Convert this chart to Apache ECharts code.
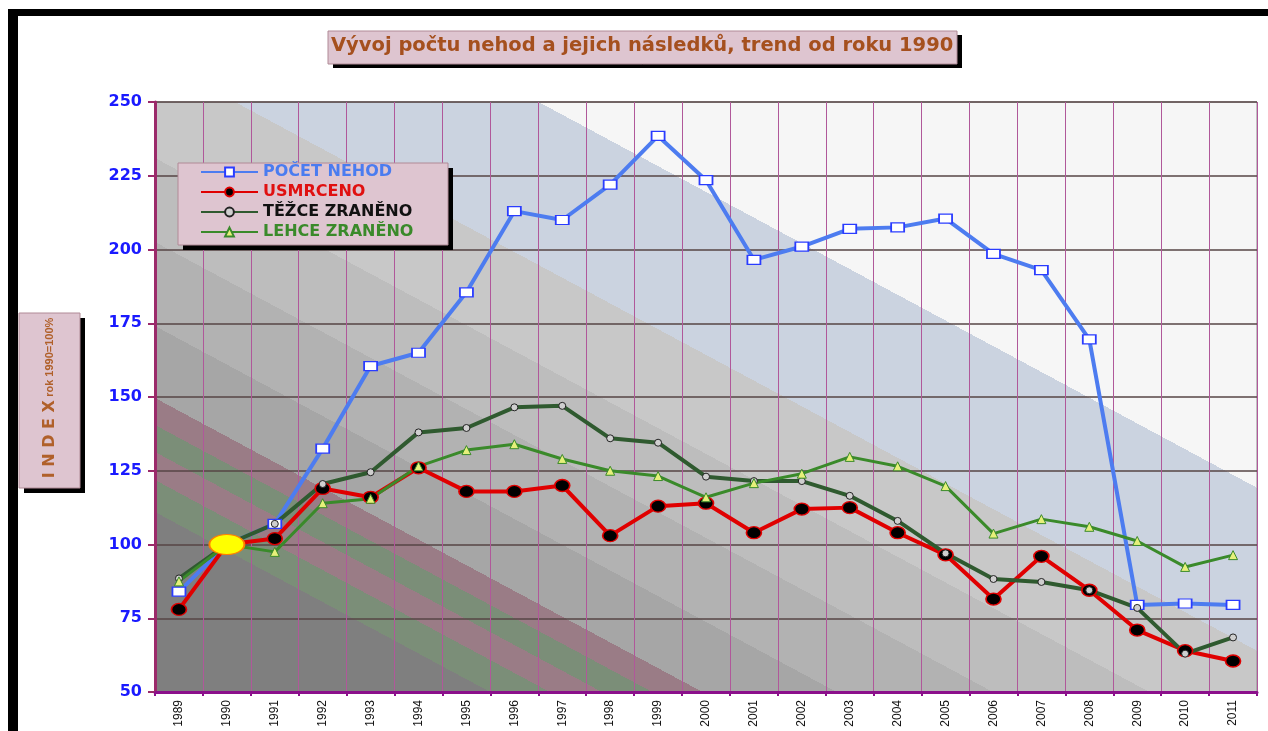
<!DOCTYPE html>
<html>
<head>
<meta charset="utf-8">
<title>Vývoj počtu nehod</title>
<script src="https://cdn.jsdelivr.net/npm/echarts@6/dist/echarts.min.js"></script>
<style>
  html, body { margin: 0; padding: 0; background: #fff; }
  #chart { width: 1268px; height: 731px; }
</style>
</head>
<body>
<div id="chart"></div>
<script>
// data (index, year 1990 = 100)
const years = ['1989', '1990', '1991', '1992', '1993', '1994', '1995', '1996', '1997', '1998', '1999', '2000',
  '2001', '2002', '2003', '2004', '2005', '2006', '2007', '2008', '2009', '2010', '2011'];
const pocetNehod = [84, 100, 107, 132.5, 160.5, 165, 185.5, 213, 210, 222, 238.5, 223.5,
  196.5, 201, 207, 207.5, 210.5, 198.5, 193, 169.5, 79.5, 80, 79.5];
const usmrceno = [78, 100, 102, 119, 116, 126, 118, 118, 120, 103, 113, 114,
  104, 112, 112.5, 104, 96.5, 81.5, 96, 84.5, 71, 64, 60.5];
const tezceZraneno = [88.5, 100, 107, 120.5, 124.5, 138, 139.5, 146.5, 147, 136, 134.5, 123,
  121.5, 121.5, 116.5, 108, 97, 88.3, 87.3, 84.5, 78.5, 63, 68.5];
const lehceZraneno = [87.5, 100, 97.5, 114, 115.5, 126.5, 132, 134, 129, 125, 123.2, 116,
  120.8, 124, 129.7, 126.5, 119.8, 103.7, 108.6, 106, 101.2, 92.4, 96.4];
const baseYear = '1990';
const baseIndex = 100;

const seriesNames = ['POČET NEHOD', 'USMRCENO', 'TĚŽCE ZRANĚNO', 'LEHCE ZRANĚNO'];
const legendColors = ['#4a7cf0', '#e01010', '#111111', '#3a8a2a'];

// diagonal banded background of the plot area
const grid = { left: 155, top: 102, right: 11, bottom: 39 };
const slope = 0.537;
// band edges measured as the y where each edge meets the left side of the plot
const bandEdges = [-104, 59, 158, 242, 326, 398, 425, 452, 480, 512];
const bandColors = ['#f6f6f6', '#cbd3e0', '#c8c8c8', '#bdbdbd', '#b2b2b2', '#a6a6a6',
  '#9a7c86', '#7b8e78', '#9a7c86', '#7b8e78', '#7f7f7f'];

function bandGradient() {
  const x0 = grid.left, right = 1268 - grid.right, top = grid.top, bottom = 731 - grid.bottom;
  const fTop = top - slope * (right - x0);      // top-right corner
  const fBot = bottom;                           // bottom-left corner
  const k = (fBot - fTop) / (slope * slope + 1);
  const p0 = [right, top];
  const p1 = [right - slope * k, top + k];
  const off = f => (f - fTop) / (fBot - fTop);
  const stops = [{ offset: 0, color: bandColors[0] }];
  bandEdges.forEach((e, i) => {
    stops.push({ offset: off(e), color: bandColors[i] });
    stops.push({ offset: off(e), color: bandColors[i + 1] });
  });
  stops.push({ offset: 1, color: bandColors[bandColors.length - 1] });
  return new echarts.graphic.LinearGradient(p0[0], p0[1], p1[0], p1[1], stops, true);
}

// a pink box with a hard black drop shadow
function shadowBox(x, y, w, h, dx, dy, z) {
  return [
    { type: 'rect', shape: { x: x + dx, y: y + dy, width: w, height: h }, style: { fill: '#000' }, z: z },
    { type: 'rect', shape: { x: x, y: y, width: w, height: h },
      style: { fill: '#dec5d0', stroke: '#b08a96', lineWidth: 1 }, z: z }
  ];
}

const chart = echarts.init(document.getElementById('chart'));

const option = {
  animation: false,
  backgroundColor: '#ffffff',
  title: {
    text: 'Vývoj počtu nehod a jejich následků, trend od roku 1990',
    left: 331,
    top: 36,
    padding: 0,
    z: 20,
    textStyle: {
      color: '#a5501e',
      fontSize: 19.5,
      fontWeight: 'bold',
      fontFamily: 'DejaVu Sans'
    }
  },
  legend: {
    orient: 'vertical',
    left: 200,
    top: 164,
    itemWidth: 57,
    itemHeight: 11,
    itemGap: 4,
    padding: 0,
    z: 20,
    textStyle: { fontWeight: 'bold', fontSize: 16, fontFamily: 'DejaVu Sans' },
    data: seriesNames.map((n, i) => ({ name: n, textStyle: { color: legendColors[i] } }))
  },
  grid: {
    left: grid.left,
    top: grid.top,
    right: grid.right,
    bottom: grid.bottom,
    show: true,
    backgroundColor: bandGradient(),
    borderColor: '#8c8c8c',
    borderWidth: 1
  },
  xAxis: {
    type: 'category',
    data: years,
    boundaryGap: true,
    axisLine: { lineStyle: { color: '#8b108b', width: 3 } },
    axisTick: { show: true, length: 4, lineStyle: { color: '#8b108b', width: 2 } },
    axisLabel: {
      rotate: 90,
      fontSize: 12,
      color: '#111',
      margin: 8,
      fontFamily: 'Liberation Sans'
    },
    splitLine: { show: true, lineStyle: { color: '#b0589a', width: 1 } }
  },
  yAxis: {
    type: 'value',
    min: 50,
    max: 250,
    interval: 25,
    axisLine: { show: true, lineStyle: { color: '#9b2a6a', width: 3 } },
    axisTick: { show: true, length: 7, lineStyle: { color: '#9b2a6a', width: 2 } },
    axisLabel: {
      color: '#1a1aff',
      fontSize: 16,
      fontWeight: 'bold',
      fontFamily: 'DejaVu Sans',
      margin: 13
    },
    splitLine: { show: true, lineStyle: { color: '#564545', width: 1.5 } }
  },
  graphic: [
    // outer black frame edges
    { type: 'rect', shape: { x: 8, y: 9, width: 1268, height: 7 }, style: { fill: '#000' }, z: 100 },
    { type: 'rect', shape: { x: 8, y: 9, width: 10, height: 731 }, style: { fill: '#000' }, z: 100 },
    // title box
    ...shadowBox(328, 31, 629, 33, 5, 4, 10),
    // legend box
    ...shadowBox(178, 163, 270, 82, 5, 5, 10),
    // y axis name box
    ...shadowBox(19, 313, 61, 175, 5, 5, 100),
    {
      type: 'text',
      x: 50,
      y: 398,
      rotation: Math.PI / 2,
      z: 102,
      style: {
        text: '{a|I N D E X} {b|rok 1990=100%}',
        align: 'center',
        verticalAlign: 'middle',
        rich: {
          a: { fill: '#b0602a', font: 'bold 16px DejaVu Sans' },
          b: { fill: '#b0602a', font: 'bold 11px Liberation Sans' }
        }
      }
    }
  ],
  series: [
    {
      name: seriesNames[0],
      type: 'line',
      data: pocetNehod,
      symbol: 'rect',
      symbolSize: [13, 9],
      lineStyle: { color: '#4d7cf0', width: 4 },
      itemStyle: { color: '#ffffff', borderColor: '#2a3cff', borderWidth: 1.5 }
    },
    {
      name: seriesNames[1],
      type: 'line',
      data: usmrceno,
      symbol: 'circle',
      symbolSize: [15, 12],
      lineStyle: { color: '#e00000', width: 4 },
      itemStyle: { color: '#000000', borderColor: '#e00000', borderWidth: 1.5 }
    },
    {
      name: seriesNames[2],
      type: 'line',
      data: tezceZraneno,
      symbol: 'circle',
      symbolSize: 7,
      lineStyle: { color: '#2f5a2f', width: 4 },
      itemStyle: { color: '#cfcfcf', borderColor: '#222', borderWidth: 1 }
    },
    {
      name: seriesNames[3],
      type: 'line',
      data: lehceZraneno,
      symbol: 'triangle',
      symbolSize: 9,
      lineStyle: { color: '#3a8a2a', width: 3 },
      itemStyle: { color: '#e6f07a', borderColor: '#3a8a2a', borderWidth: 1 }
    },
    {
      name: 'base',
      type: 'scatter',
      data: [[baseYear, baseIndex]],
      symbol: 'circle',
      symbolSize: [35, 20],
      z: 8,
      itemStyle: { color: '#ffff00', borderColor: '#ff8000', borderWidth: 1.5, opacity: 1 }
    }
  ]
};

chart.setOption(option);
</script>
</body>
</html>
